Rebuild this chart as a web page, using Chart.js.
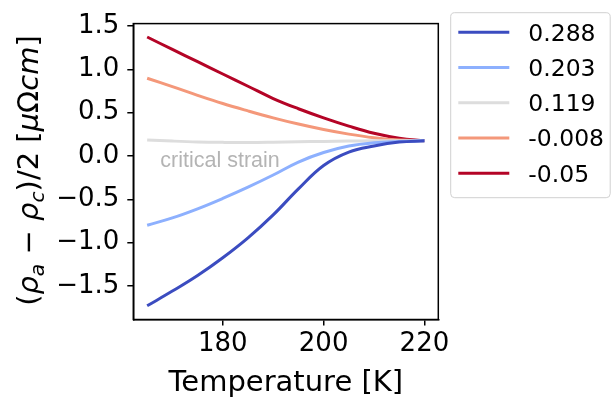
<!DOCTYPE html>
<html>
<head>
<meta charset="utf-8">
<script src="https://cdn.jsdelivr.net/npm/chart.js@4"></script>
<style>
html,body{margin:0;padding:0;background:#fff;}
canvas{display:block;}
</style>
</head>
<body>
<canvas id="c" width="613" height="399"></canvas>
<script>
// ---- data ----
const temperatures = [165,170,175,180,185,190,195,200,205,210,215,220];
const strainLabels = ["0.288","0.203","0.119","-0.008","-0.05"];
const series_0288  = [-1.73,-1.56,-1.38,-1.175,-0.945,-0.68,-0.38,-0.11,0.045,0.115,0.16,0.175];
const series_0203  = [-0.80,-0.715,-0.61,-0.49,-0.36,-0.22,-0.07,0.04,0.115,0.152,0.167,0.175];
const series_0119  = [0.185,0.172,0.162,0.157,0.155,0.158,0.163,0.168,0.172,0.175,0.176,0.175];
const series_m0008 = [0.897,0.80,0.70,0.605,0.52,0.44,0.368,0.305,0.252,0.21,0.183,0.175];
const series_m005  = [1.373,1.23,1.088,0.946,0.805,0.663,0.545,0.44,0.345,0.262,0.205,0.175];
const xTickValues = [180,200,220];
const yTickValues = [-1.5,-1.0,-0.5,0.0,0.5,1.0,1.5];
const annotationText = "critical strain";
const annotationPos = [167.6,-0.124];

const colors = ["#3b4cc0","#8db0fe","#dddddd","#f4987a","#b40426"];
const allSeries = [series_0288,series_0203,series_0119,series_m0008,series_m005];

const datasets = allSeries.map((s,i)=>({
  label: strainLabels[i],
  data: temperatures.map((t,j)=>({x:t,y:s[j]})),
  borderColor: colors[i],
  backgroundColor: colors[i],
  borderWidth: 3,
  pointRadius: 0,
  tension: 0.4,
  fill: false
}));

const FONT = '"DejaVu Sans", sans-serif';

const framePlugin = {
  id: 'frame',
  afterDraw(chart){
    const ctx = chart.ctx, a = chart.chartArea;
    ctx.save();
    ctx.strokeStyle = '#000';
    ctx.lineWidth = 1.5;
    ctx.strokeRect(a.left, a.top, a.right-a.left, a.bottom-a.top);

    // annotation
    const xs = chart.scales.x, ys = chart.scales.y;
    ctx.fillStyle = '#b4b4b4';
    ctx.font = '21.5px "Liberation Sans", Arial, sans-serif';
    ctx.textAlign = 'left';
    ctx.textBaseline = 'alphabetic';
    ctx.fillText(annotationText, xs.getPixelForValue(annotationPos[0]), ys.getPixelForValue(annotationPos[1]));

    // x title
    ctx.fillStyle = '#000';
    ctx.font = '29px ' + FONT;
    ctx.textAlign = 'center';
    ctx.fillText('Temperature [K]', (a.left+a.right)/2, 391);

    // y title (rich text, rotated)
    const size = 29;
    const segs = [
      {t:'(', st:''},
      {t:'ρ', st:'italic '},
      {t:'a', st:'italic ', sub:true},
      {t:' − ', st:''},
      {t:'ρ', st:'italic '},
      {t:'c', st:'italic ', sub:true},
      {t:')/2 [', st:''},
      {t:'μ', st:'italic '},
      {t:'Ω', st:''},
      {t:'cm', st:'italic '},
      {t:']', st:''}
    ];
    let total = 0;
    segs.forEach(s=>{
      const fs = s.sub ? size*0.7 : size;
      ctx.font = s.st + fs + 'px ' + FONT;
      s.w = ctx.measureText(s.t).width;
      s.fs = fs;
      total += s.w;
    });
    ctx.translate(38, (a.top+a.bottom)/2 - 1);
    ctx.rotate(-Math.PI/2);
    ctx.textAlign = 'left';
    let x = -total/2;
    segs.forEach(s=>{
      ctx.font = s.st + s.fs + 'px ' + FONT;
      ctx.fillText(s.t, x, s.sub ? size*0.2 : 0);
      x += s.w;
    });
    ctx.restore();

    // legend
    ctx.save();
    const lx = 450.7, ly = 12.7, lw = 159.5, lh = 185, r = 4;
    ctx.beginPath();
    ctx.moveTo(lx+r, ly);
    ctx.lineTo(lx+lw-r, ly); ctx.quadraticCurveTo(lx+lw, ly, lx+lw, ly+r);
    ctx.lineTo(lx+lw, ly+lh-r); ctx.quadraticCurveTo(lx+lw, ly+lh, lx+lw-r, ly+lh);
    ctx.lineTo(lx+r, ly+lh); ctx.quadraticCurveTo(lx, ly+lh, lx, ly+lh-r);
    ctx.lineTo(lx, ly+r); ctx.quadraticCurveTo(lx, ly, lx+r, ly);
    ctx.closePath();
    ctx.fillStyle = 'rgba(255,255,255,0.8)';
    ctx.fill();
    ctx.strokeStyle = '#d0d0d0';
    ctx.lineWidth = 1;
    ctx.stroke();
    ctx.font = '23.5px ' + FONT;
    ctx.textAlign = 'left';
    ctx.textBaseline = 'alphabetic';
    chart.data.datasets.forEach((d,i)=>{
      const cy = 32.3 + i*35.25;
      ctx.strokeStyle = d.borderColor;
      ctx.lineWidth = 3;
      ctx.beginPath();
      ctx.moveTo(458.3, cy); ctx.lineTo(509.3, cy);
      ctx.stroke();
      ctx.fillStyle = '#000';
      ctx.fillText(d.label, 528.3, cy + 8.4);
    });
    ctx.restore();
  }
};

new Chart(document.getElementById('c'), {
  type: 'line',
  data: { datasets },
  options: {
    responsive: false,
    animation: false,
    devicePixelRatio: 1,
    layout: { padding: { left: 0, right: 174.7, top: 15.5, bottom: 0 } },
    plugins: { legend: { display: false }, tooltip: { enabled: false } },
    scales: {
      x: {
        type: 'linear',
        min: 162.25, max: 222.75,
        afterFit(s){ s.height = 79.5; },
        afterBuildTicks(s){ s.ticks = xTickValues.map(v=>({value:v})); },
        ticks: { color:'#000', font:{family:'DejaVu Sans', size:26}, padding: 3, maxRotation:0, autoSkip:false,
                 callback: v => String(v) },
        grid: { display:true, drawOnChartArea:false, drawTicks:true, tickLength:6, color:'#000', lineWidth:1.5 },
        border: { display:true, color:'#000', width:1.5 }
      },
      y: {
        type: 'linear',
        min: -1.888, max: 1.528,
        afterFit(s){ s.width = 133.3; },
        afterBuildTicks(s){ s.ticks = yTickValues.map(v=>({value:v})); },
        ticks: { color:'#000', font:{family:'DejaVu Sans', size:26}, padding: 8, autoSkip:false,
                 callback: v => (v<0?'\u2212':'') + Math.abs(v).toFixed(1) },
        grid: { display:true, drawOnChartArea:false, drawTicks:true, tickLength:6, color:'#000', lineWidth:1.5 },
        border: { display:true, color:'#000', width:1.5 }
      }
    }
  },
  plugins: [framePlugin]
});
</script>
</body>
</html>
